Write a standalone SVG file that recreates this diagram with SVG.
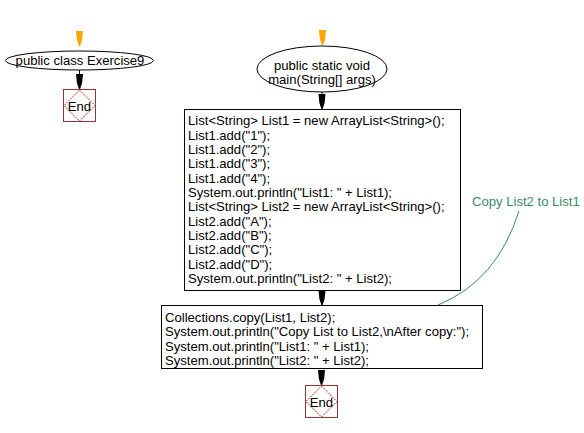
<svg xmlns="http://www.w3.org/2000/svg" width="584" height="433" viewBox="0 0 584 433">
<defs>
<style>
text{font-family:"Liberation Sans",Arial,sans-serif;font-size:13.1px;fill:#000}
.c{text-anchor:middle}
.shape{fill:#fff;stroke:#000;stroke-width:1}
.endbox{fill:#fff;stroke:#993333;stroke-width:1}
.diamond{fill:none;stroke:#bb2222;stroke-width:1;stroke-dasharray:2 1}
.line{stroke:#000;stroke-width:1;fill:none}
.note{fill:#3a8a6a}
.noteline{stroke:#3a8a6a;stroke-width:1;fill:none}
</style>
<path id="head" d="M-3.5,-15 L3.5,-15 L2.6,-6 L0.6,0 L-0.6,0 L-2.6,-6 Z"/>
</defs>
<rect width="584" height="433" fill="#fff"/>

<g id="connectors">
  <use href="#head" x="79.5" y="46" fill="#ffa500"/>
  <line class="line" x1="79.5" y1="70" x2="79.5" y2="75"/>
  <use href="#head" x="79.5" y="89" fill="#000"/>
  <use href="#head" x="322.5" y="45" fill="#ffa500"/>
  <line class="line" x1="322" y1="92" x2="322" y2="95"/>
  <use href="#head" x="322" y="109" fill="#000"/>
  <use href="#head" x="322" y="305" fill="#000"/>
  <use href="#head" x="321.5" y="385" fill="#000"/>
  <path class="noteline" d="M438,305 Q497,281 519,211"/>
</g>

<g id="start1">
  <ellipse class="shape" cx="79.5" cy="60.5" rx="74" ry="9.5"/>
  <text class="c" x="80" y="65">public class Exercise9</text>
</g>

<g id="end1">
  <rect class="endbox" x="63.5" y="89.5" width="32" height="32"/>
  <polygon class="diamond" points="79.5,90 95,105.5 79.5,121 64,105.5"/>
  <text class="c" x="79.5" y="110.5">End</text>
</g>

<g id="start2">
  <ellipse class="shape" cx="322" cy="69" rx="65" ry="23"/>
  <text class="c" x="322" y="69.5">public static void</text>
  <text class="c" x="322" y="84">main(String[] args)</text>
</g>

<g id="block1">
  <rect class="shape" x="184.5" y="109.5" width="276" height="181"/>
  <text x="188" y="125.4">List&lt;String&gt; List1 = new ArrayList&lt;String&gt;();</text>
  <text x="188" y="139.7">List1.add("1");</text>
  <text x="188" y="154">List1.add("2");</text>
  <text x="188" y="168.4">List1.add("3");</text>
  <text x="188" y="182.7">List1.add("4");</text>
  <text x="188" y="197">System.out.println("List1: " + List1);</text>
  <text x="188" y="211.4">List&lt;String&gt; List2 = new ArrayList&lt;String&gt;();</text>
  <text x="188" y="225.7">List2.add("A");</text>
  <text x="188" y="240">List2.add("B");</text>
  <text x="188" y="254.4">List2.add("C");</text>
  <text x="188" y="268.7">List2.add("D");</text>
  <text x="188" y="283">System.out.println("List2: " + List2);</text>
</g>

<g id="block2">
  <rect class="shape" x="161.5" y="305.5" width="321" height="63"/>
  <text x="165" y="322">Collections.copy(List1, List2);</text>
  <text x="165" y="336.4">System.out.println("Copy List to List2,\nAfter copy:");</text>
  <text x="165" y="350.8">System.out.println("List1: " + List1);</text>
  <text x="165" y="365.2">System.out.println("List2: " + List2);</text>
</g>

<g id="end2">
  <rect class="endbox" x="305.5" y="385.5" width="32" height="32"/>
  <polygon class="diamond" points="321.5,386 337,401.5 321.5,417 306,401.5"/>
  <text class="c" x="321.5" y="406.8">End</text>
</g>

<g id="note">
  <text class="note" x="472" y="206">Copy List2 to List1</text>
</g>
</svg>
